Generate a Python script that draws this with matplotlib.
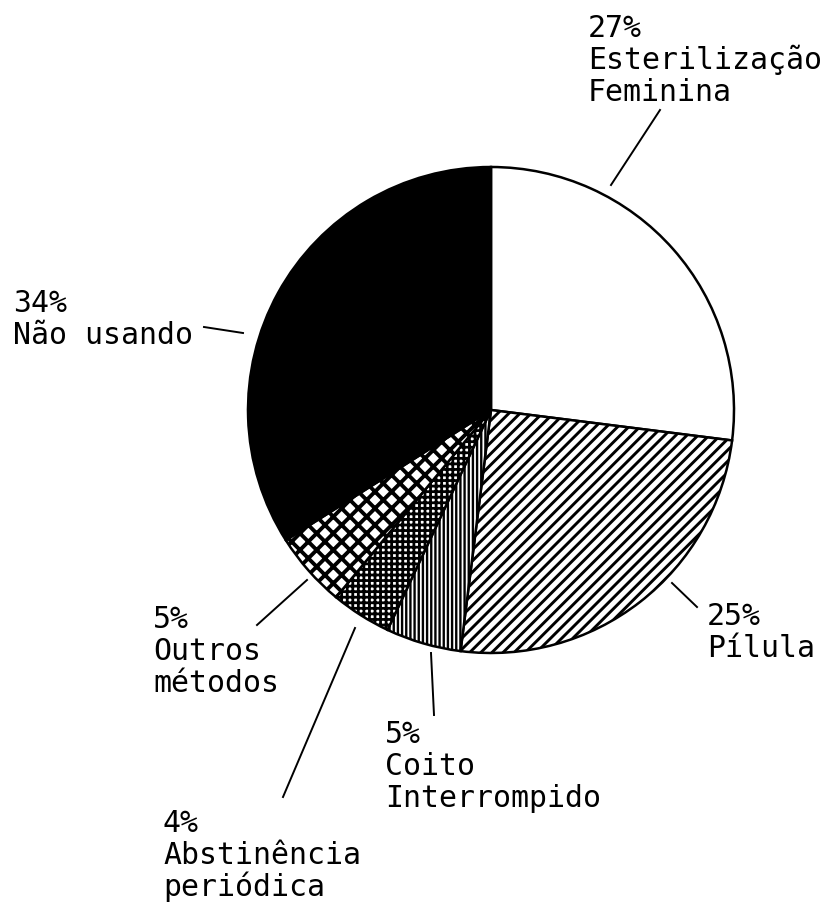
import matplotlib

matplotlib.use("Agg")
import matplotlib.pyplot as plt

# contraceptive use shares, clockwise from 12 o'clock
methods = [
    "Esterilização\nFeminina",
    "Pílula",
    "Coito\nInterrompido",
    "Abstinência\nperiódica",
    "Outros\nmétodos",
    "Não usando",
]
shares = [27, 25, 5, 4, 5, 34]
fills = ["white", "white", "white", "white", "white", "black"]
hatches = [None, "///", "||||", "+++", "xx", None]
hatch_widths = [1.0, 2.1, 1.7, 2.0, 2.8, 1.0]

# layout, in pixels from top-left of the 836x902 picture
W, H = 836, 902
CX, CY, R = 491, 410, 243
# (x, first baseline) for each label block
label_pos = [(588, 37), (707, 625), (385, 743), (163, 832), (153, 628), (13, 312)]
# leader lines: (x0, y0, x1, y1)
leaders = [
    (611, 185, 660, 110),
    (672, 583, 697, 607),
    (431, 653, 434, 715),
    (355, 628, 283, 797),
    (307, 580, 257, 625),
    (204, 327, 243, 333),
]
LINE_STEP = 32

fig = plt.figure(figsize=(W / 100, H / 100), dpi=100)
ax = fig.add_axes([0, 0, 1, 1])

wedges, _ = ax.pie(
    shares,
    colors=fills,
    startangle=90,
    counterclock=False,
    center=(CX, H - CY),
    radius=R,
    wedgeprops=dict(edgecolor="black", linewidth=1.8),
    frame=True,
)
ax.set_xlim(0, W)
ax.set_ylim(0, H)
ax.axis("off")

for w, h, lw in zip(wedges, hatches, hatch_widths):
    if h:
        w.set_hatch(h)
        if hasattr(w, "set_hatch_linewidth"):
            w.set_hatch_linewidth(lw)

font = dict(family="DejaVu Sans Mono", fontsize=21.5, color="black")
for name, pct, (x, y0) in zip(methods, shares, label_pos):
    lines = [f"{pct}%"] + name.split("\n")
    for i, line in enumerate(lines):
        ax.text(x, H - (y0 + i * LINE_STEP), line, ha="left", va="baseline", **font)

for x0, y0, x1, y1 in leaders:
    ax.plot([x0, x1], [H - y0, H - y1], color="black", linewidth=1.4)

fig.savefig("out.png", dpi=100, facecolor="white")
